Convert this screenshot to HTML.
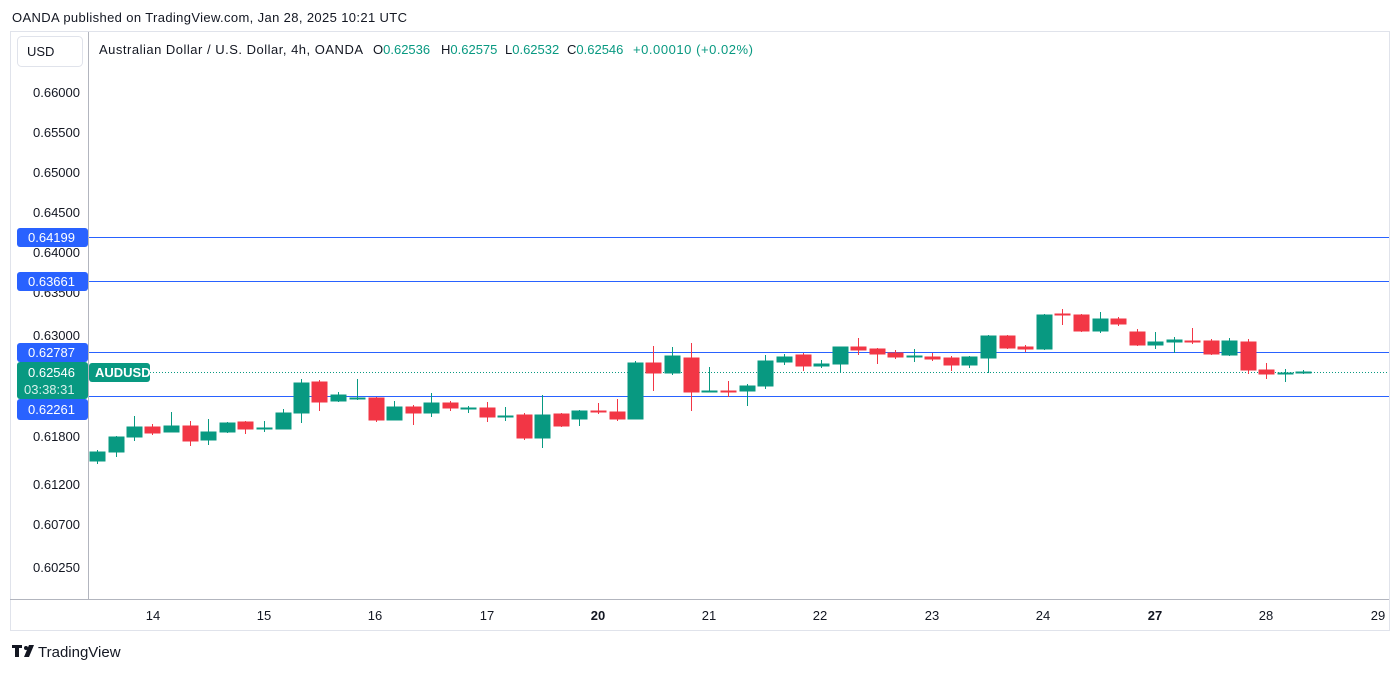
<!DOCTYPE html>
<html><head><meta charset="utf-8"><style>
body{margin:0;background:#fff;font-family:"Liberation Sans",sans-serif;}
svg text{font-family:"Liberation Sans",sans-serif;}
</style></head><body>
<svg width="1400" height="672" xmlns="http://www.w3.org/2000/svg">
<rect width="1400" height="672" fill="#fff"/>
<text x="12" y="22" font-size="13" fill="#131722" textLength="395">OANDA published on TradingView.com, Jan 28, 2025 10:21 UTC</text>
<rect x="10.5" y="31.5" width="1379" height="599" fill="none" stroke="#e0e3eb"/>
<line x1="88.5" y1="32" x2="88.5" y2="600" stroke="#b2b5be"/>
<line x1="10" y1="599.5" x2="1389" y2="599.5" stroke="#b2b5be"/>
<rect x="17.5" y="36.5" width="65" height="30" rx="4" fill="#fff" stroke="#e0e3eb"/>
<text x="27" y="56" font-size="13" fill="#131722">USD</text>
<g font-size="13" fill="#089981">
<text x="99" y="54" fill="#131722" textLength="264">Australian Dollar / U.S. Dollar, 4h, OANDA</text>
<text x="373" y="54"><tspan fill="#131722">O</tspan>0.62536</text>
<text x="441" y="54"><tspan fill="#131722">H</tspan>0.62575</text>
<text x="505" y="54"><tspan fill="#131722">L</tspan>0.62532</text>
<text x="567" y="54"><tspan fill="#131722">C</tspan>0.62546</text>
<text x="633" y="54" textLength="120">+0.00010 (+0.02%)</text>
</g>
<g font-size="13" fill="#131722" text-anchor="end">
<text x="80" y="97">0.66000</text><text x="80" y="137">0.65500</text><text x="80" y="177">0.65000</text><text x="80" y="217">0.64500</text><text x="80" y="257">0.64000</text><text x="80" y="297">0.63500</text><text x="80" y="340">0.63000</text><text x="80" y="441">0.61800</text><text x="80" y="489">0.61200</text><text x="80" y="529">0.60700</text><text x="80" y="572">0.60250</text>
</g>
<g stroke="#2962ff" stroke-width="1">
<line x1="89" y1="237.5" x2="1389" y2="237.5"/><line x1="89" y1="281.5" x2="1389" y2="281.5"/><line x1="89" y1="352.5" x2="1389" y2="352.5"/><line x1="89" y1="396.5" x2="1389" y2="396.5"/>
</g>
<line x1="150" y1="372.5" x2="1389" y2="372.5" stroke="#089981" stroke-dasharray="1,2"/>
<g stroke-width="1">
<g stroke="#089981" fill="#089981">
<line x1="97.5" y1="450" x2="97.5" y2="464"/><rect x="90" y="452" width="15" height="9"/>
<line x1="116.5" y1="436" x2="116.5" y2="457"/><rect x="109" y="437" width="15" height="15"/>
<line x1="134.5" y1="416" x2="134.5" y2="441"/><rect x="127" y="427" width="15" height="10"/>
<line x1="171.5" y1="412" x2="171.5" y2="432"/><rect x="164" y="426" width="15" height="6"/>
<line x1="208.5" y1="419" x2="208.5" y2="445"/><rect x="201" y="432" width="15" height="8"/>
<line x1="227.5" y1="422" x2="227.5" y2="433"/><rect x="220" y="423" width="15" height="9"/>
<line x1="264.5" y1="421" x2="264.5" y2="432"/><rect x="257" y="428" width="15" height="1"/>
<line x1="283.5" y1="409" x2="283.5" y2="429"/><rect x="276" y="413" width="15" height="16"/>
<line x1="301.5" y1="379" x2="301.5" y2="423"/><rect x="294" y="383" width="15" height="30"/>
<line x1="338.5" y1="392" x2="338.5" y2="402"/><rect x="331" y="395" width="15" height="6"/>
<line x1="357.5" y1="379" x2="357.5" y2="400"/><rect x="350" y="398" width="15" height="1"/>
<line x1="394.5" y1="401" x2="394.5" y2="420"/><rect x="387" y="407" width="15" height="13"/>
<line x1="431.5" y1="393" x2="431.5" y2="417"/><rect x="424" y="403" width="15" height="10"/>
<line x1="468.5" y1="406" x2="468.5" y2="413"/><rect x="461" y="408" width="15" height="1"/>
<line x1="505.5" y1="407" x2="505.5" y2="421"/><rect x="498" y="416" width="15" height="1"/>
<line x1="542.5" y1="395" x2="542.5" y2="448"/><rect x="535" y="415" width="15" height="23"/>
<line x1="579.5" y1="410" x2="579.5" y2="426"/><rect x="572" y="411" width="15" height="8"/>
<line x1="635.5" y1="361" x2="635.5" y2="419"/><rect x="628" y="363" width="15" height="56"/>
<line x1="672.5" y1="347" x2="672.5" y2="375"/><rect x="665" y="356" width="15" height="17"/>
<line x1="709.5" y1="367" x2="709.5" y2="392"/><rect x="702" y="391" width="15" height="1"/>
<line x1="747.5" y1="384" x2="747.5" y2="406"/><rect x="740" y="386" width="15" height="5"/>
<line x1="765.5" y1="355" x2="765.5" y2="389"/><rect x="758" y="361" width="15" height="25"/>
<line x1="784.5" y1="354" x2="784.5" y2="365"/><rect x="777" y="357" width="15" height="5"/>
<line x1="821.5" y1="360" x2="821.5" y2="368"/><rect x="814" y="364" width="15" height="2"/>
<line x1="840.5" y1="347" x2="840.5" y2="373"/><rect x="833" y="347" width="15" height="17"/>
<line x1="914.5" y1="349" x2="914.5" y2="362"/><rect x="907" y="356" width="15" height="1"/>
<line x1="969.5" y1="356" x2="969.5" y2="368"/><rect x="962" y="357" width="15" height="8"/>
<line x1="988.5" y1="335" x2="988.5" y2="373"/><rect x="981" y="336" width="15" height="22"/>
<line x1="1044.5" y1="314" x2="1044.5" y2="350"/><rect x="1037" y="315" width="15" height="34"/>
<line x1="1100.5" y1="312" x2="1100.5" y2="333"/><rect x="1093" y="319" width="15" height="12"/>
<line x1="1155.5" y1="332" x2="1155.5" y2="349"/><rect x="1148" y="342" width="15" height="3"/>
<line x1="1174.5" y1="337" x2="1174.5" y2="353"/><rect x="1167" y="340" width="15" height="2"/>
<line x1="1229.5" y1="338" x2="1229.5" y2="356"/><rect x="1222" y="341" width="15" height="14"/>
<line x1="1285.5" y1="369" x2="1285.5" y2="382"/><rect x="1278" y="373" width="15" height="1"/>
<line x1="1303.5" y1="370" x2="1303.5" y2="374"/><rect x="1296" y="372" width="15" height="1"/>
</g>
<g stroke="#f23645" fill="#f23645">
<line x1="152.5" y1="424" x2="152.5" y2="435"/><rect x="145" y="427" width="15" height="6"/>
<line x1="190.5" y1="421" x2="190.5" y2="446"/><rect x="183" y="426" width="15" height="15"/>
<line x1="245.5" y1="421" x2="245.5" y2="434"/><rect x="238" y="422" width="15" height="7"/>
<line x1="319.5" y1="380" x2="319.5" y2="411"/><rect x="312" y="382" width="15" height="20"/>
<line x1="376.5" y1="397" x2="376.5" y2="422"/><rect x="369" y="398" width="15" height="22"/>
<line x1="413.5" y1="405" x2="413.5" y2="425"/><rect x="406" y="407" width="15" height="6"/>
<line x1="450.5" y1="401" x2="450.5" y2="411"/><rect x="443" y="403" width="15" height="5"/>
<line x1="487.5" y1="402" x2="487.5" y2="422"/><rect x="480" y="408" width="15" height="9"/>
<line x1="524.5" y1="413" x2="524.5" y2="440"/><rect x="517" y="415" width="15" height="23"/>
<line x1="561.5" y1="413" x2="561.5" y2="427"/><rect x="554" y="414" width="15" height="12"/>
<line x1="598.5" y1="403" x2="598.5" y2="414"/><rect x="591" y="411" width="15" height="1"/>
<line x1="617.5" y1="399" x2="617.5" y2="421"/><rect x="610" y="412" width="15" height="7"/>
<line x1="653.5" y1="346" x2="653.5" y2="391"/><rect x="646" y="363" width="15" height="10"/>
<line x1="691.5" y1="343" x2="691.5" y2="411"/><rect x="684" y="358" width="15" height="34"/>
<line x1="728.5" y1="381" x2="728.5" y2="397"/><rect x="721" y="391" width="15" height="1"/>
<line x1="803.5" y1="353" x2="803.5" y2="371"/><rect x="796" y="355" width="15" height="11"/>
<line x1="858.5" y1="338" x2="858.5" y2="355"/><rect x="851" y="347" width="15" height="3"/>
<line x1="877.5" y1="348" x2="877.5" y2="364"/><rect x="870" y="349" width="15" height="5"/>
<line x1="895.5" y1="350" x2="895.5" y2="359"/><rect x="888" y="353" width="15" height="4"/>
<line x1="932.5" y1="353" x2="932.5" y2="361"/><rect x="925" y="357" width="15" height="2"/>
<line x1="951.5" y1="356" x2="951.5" y2="371"/><rect x="944" y="358" width="15" height="7"/>
<line x1="1007.5" y1="335" x2="1007.5" y2="349"/><rect x="1000" y="336" width="15" height="12"/>
<line x1="1025.5" y1="345" x2="1025.5" y2="352"/><rect x="1018" y="347" width="15" height="2"/>
<line x1="1062.5" y1="309" x2="1062.5" y2="325"/><rect x="1055" y="314" width="15" height="1"/>
<line x1="1081.5" y1="314" x2="1081.5" y2="332"/><rect x="1074" y="315" width="15" height="16"/>
<line x1="1118.5" y1="317" x2="1118.5" y2="326"/><rect x="1111" y="319" width="15" height="5"/>
<line x1="1137.5" y1="329" x2="1137.5" y2="346"/><rect x="1130" y="332" width="15" height="13"/>
<line x1="1192.5" y1="328" x2="1192.5" y2="344"/><rect x="1185" y="341" width="15" height="1"/>
<line x1="1211.5" y1="339" x2="1211.5" y2="355"/><rect x="1204" y="341" width="15" height="13"/>
<line x1="1248.5" y1="339" x2="1248.5" y2="374"/><rect x="1241" y="342" width="15" height="28"/>
<line x1="1266.5" y1="363" x2="1266.5" y2="379"/><rect x="1259" y="370" width="15" height="4"/>
</g>
</g>
<g font-size="13" fill="#fff">
<rect x="17" y="228" width="71" height="19" rx="3" fill="#2962ff"/><text x="28" y="242">0.64199</text>
<rect x="17" y="272" width="71" height="19" rx="3" fill="#2962ff"/><text x="28" y="286">0.63661</text>
<rect x="17" y="343" width="71" height="19" rx="3" fill="#2962ff"/><text x="28" y="357">0.62787</text>
<rect x="17" y="399" width="71" height="21" rx="3" fill="#2962ff"/><text x="28" y="414">0.62261</text>
<rect x="17" y="362" width="71" height="37" rx="3" fill="#089981"/><text x="28" y="377">0.62546</text>
<text x="24" y="394" fill="#d6f0eb">03:38:31</text>
<rect x="89" y="363" width="61" height="19" rx="3" fill="#089981"/><text x="95" y="377" font-weight="bold">AUDUSD</text>
</g>
<g font-size="13" fill="#131722" text-anchor="middle">
<text x="153" y="620">14</text><text x="264" y="620">15</text><text x="375" y="620">16</text><text x="487" y="620">17</text><text x="598" y="620" font-weight="bold">20</text><text x="709" y="620">21</text><text x="820" y="620">22</text><text x="932" y="620">23</text><text x="1043" y="620">24</text><text x="1155" y="620" font-weight="bold">27</text><text x="1266" y="620">28</text><text x="1378" y="620">29</text>
</g>
<rect x="12" y="645" width="10" height="3" fill="#131722"/><rect x="15" y="645" width="4" height="12" fill="#131722"/><circle cx="26" cy="648" r="2" fill="#131722"/><path d="M29 645 L34 645 L29 657 L24 657 Z" fill="#131722"/>
<text x="38" y="657" font-size="15" fill="#131722">TradingView</text>
</svg>
</body></html>
